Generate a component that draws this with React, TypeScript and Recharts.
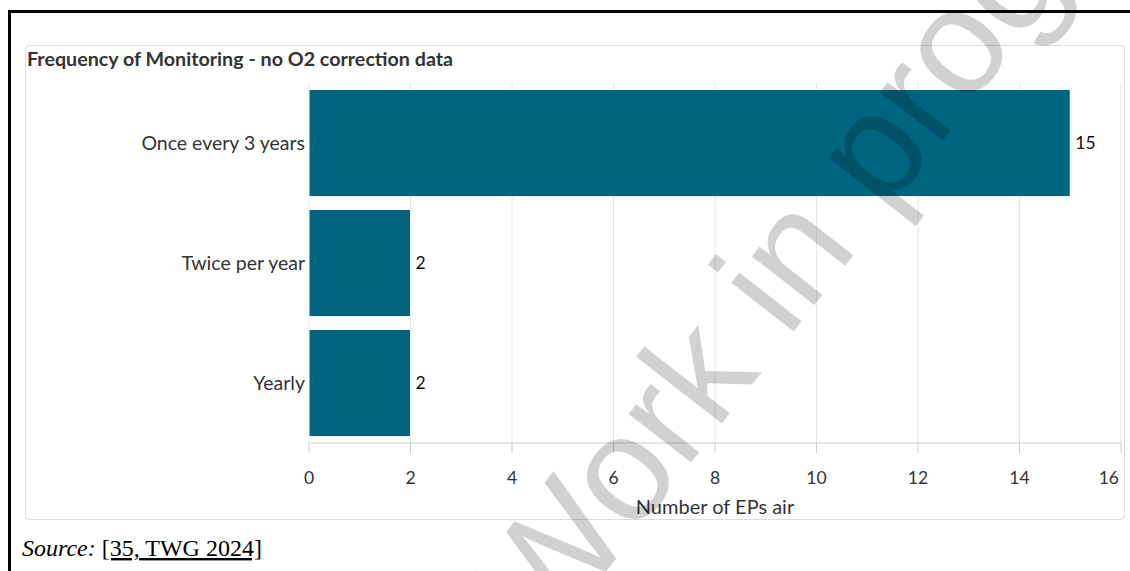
import { Bar, BarChart, CartesianGrid, LabelList, XAxis, YAxis } from 'recharts';

const categories = ['Once every 3 years', 'Twice per year', 'Yearly'];
const counts = [15, 2, 2];
const xTicks = [0, 2, 4, 6, 8, 10, 12, 14, 16];

const title = 'Frequency of Monitoring - no O2 correction data';
const xTitle = 'Number of EPs air';

const data = categories.map((name, i) => ({ name, value: counts[i] }));

const FONT = 'Lato, "Open Sans", sans-serif';

const XTick = ({ x, y, payload }: any) => {
  const last = payload.value === xTicks[xTicks.length - 1];
  return (
    <text
      x={last ? x + 2 : x}
      y={y + 29}
      textAnchor={last ? 'end' : 'middle'}
      fontFamily={FONT}
      fontSize={17.5}
      fill="#333"
    >
      {payload.value}
    </text>
  );
};

const AxisTitle = ({ viewBox }: any) => {
  if (!viewBox) return null;
  return (
    <text
      x={viewBox.x + viewBox.width / 2}
      y={viewBox.y + 71}
      textAnchor="middle"
      fontFamily={FONT}
      fontSize={20}
      fill="#333"
    >
      {xTitle}
    </text>
  );
};

export default function App() {
  return (
    <div style={{ position: 'absolute', left: 0, top: 0, width: 1130, height: 571, overflow: 'hidden', background: '#fff' }}>
      <svg width={1130} height={571} style={{ position: 'absolute', left: 0, top: 0 }}>
        <line x1={8} y1={11.5} x2={1130} y2={11.5} stroke="#000" strokeWidth={3} />
        <line x1={9.5} y1={10} x2={9.5} y2={571} stroke="#000" strokeWidth={3} />
        <rect x={25.5} y={45.5} width={1099} height={474} rx={4} fill="#fff" stroke="#dcdcdc" />
        <text x={27} y={66} fontFamily={FONT} fontWeight="bold" fontSize={19.7} fill="#333">
          {title}
        </text>
        <text x={22} y={556} fontFamily='"Liberation Serif", "Times New Roman", serif' fontSize={24} fill="#000">
          <tspan fontStyle="italic">Source:</tspan>
          <tspan> </tspan>
          <tspan textDecoration="underline">[35, TWG 2024]</tspan>
        </text>
      </svg>
      <div style={{ position: 'absolute', left: 25, top: 45 }}>
        <BarChart
          width={1100}
          height={475}
          data={data}
          layout="vertical"
          margin={{ top: 38, right: 4, left: 0, bottom: 0 }}
          barCategoryGap={6.5}
        >
          <CartesianGrid horizontal={false} stroke="#e6e6e6" />
          <XAxis
            type="number"
            domain={[0, 16]}
            ticks={xTicks}
            height={77}
            tickSize={10}
            axisLine={{ stroke: '#ccc' }}
            tickLine={{ stroke: '#ccc' }}
            tick={<XTick />}
            label={<AxisTitle />}
          />
          <YAxis
            type="category"
            dataKey="name"
            width={284}
            tickSize={0}
            tickMargin={4}
            axisLine={false}
            tickLine={false}
            tick={{ fontFamily: FONT, fontSize: 19.5, fill: '#333' }}
          />
          <Bar dataKey="value" fill="#00657f" stroke="#fff" strokeWidth={1} isAnimationActive={false}>
            <LabelList dataKey="value" position="right" offset={5} fontFamily={FONT} fontSize={17.5} fill="#111" />
          </Bar>
        </BarChart>
      </div>
      <svg width={1130} height={571} style={{ position: 'absolute', left: 0, top: 0, pointerEvents: 'none' }}>
        <text
          transform="translate(548,646) rotate(-52)"
          fontFamily='"Liberation Sans", Arial, sans-serif'
          fontSize={150}
          fill="#000"
          fillOpacity={0.18}
        >
          Work in progress
        </text>
      </svg>
    </div>
  );
}
